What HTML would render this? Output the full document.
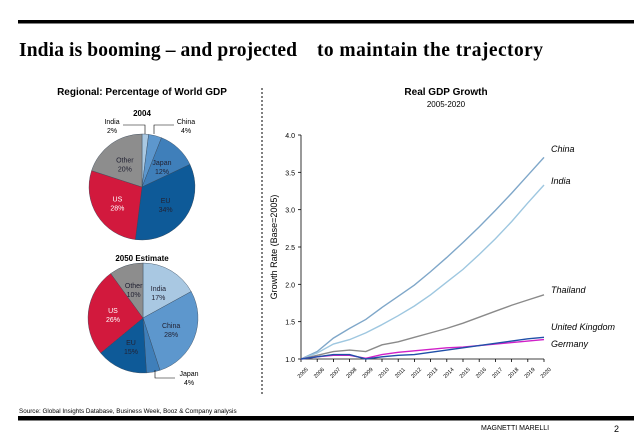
<!DOCTYPE html>
<html><head><meta charset="utf-8"><style>
body{margin:0;width:638px;height:442px;background:#fff;overflow:hidden;font-family:"Liberation Sans",sans-serif;}
svg{position:absolute;left:0;top:0}
</style></head><body>
<svg width="638" height="442">
<rect x="18" y="20" width="616" height="3.5" fill="#000"/>
<text y="56" font-family="Liberation Serif,serif" font-weight="bold" font-size="19.5"><tspan x="19" textLength="278" lengthAdjust="spacing">India is booming – and projected</tspan><tspan x="317" textLength="226" lengthAdjust="spacing">to maintain  the trajectory</tspan></text>
<text x="142" y="95" text-anchor="middle" font-weight="bold" font-size="10">Regional: Percentage of World GDP</text>
<line x1="262" y1="88" x2="262" y2="396" stroke="#000" stroke-dasharray="2,2"/>
<text x="142" y="116" text-anchor="middle" font-weight="bold" font-size="8">2004</text>
<text x="142" y="261" text-anchor="middle" font-weight="bold" font-size="8">2050 Estimate</text>
<g id="pies"></g>
<text x="446" y="95" text-anchor="middle" font-weight="bold" font-size="10">Real GDP Growth</text>
<text x="446" y="107" text-anchor="middle" font-size="8">2005-2020</text>
<text transform="translate(277,247) rotate(-90)" text-anchor="middle" font-size="9">Growth Rate (Base=2005)</text>
<g id="chart"></g>
<text x="19" y="413" font-size="6.3">Source:   Global Insights Database, Business Week, Booz &amp; Company analysis</text>
<rect x="18" y="416" width="616" height="4.5" fill="#000"/>
<text x="481" y="430" font-size="7">MAGNETTI MARELLI</text>
<text x="614" y="432" font-size="9">2</text>
</svg>
<script>
const years=["2005","2006","2007","2008","2009","2010","2011","2012","2013","2014","2015","2016","2017","2018","2019","2020"];
const yTicks=[1.0,1.5,2.0,2.5,3.0,3.5,4.0];
const china=[1.0,1.1,1.28,1.41,1.53,1.69,1.84,1.99,2.17,2.36,2.56,2.77,2.99,3.22,3.46,3.70];
const india=[1.0,1.08,1.2,1.26,1.35,1.46,1.58,1.71,1.86,2.03,2.2,2.4,2.61,2.84,3.09,3.33];
const thailand=[1.0,1.05,1.1,1.12,1.1,1.19,1.23,1.29,1.35,1.41,1.48,1.56,1.64,1.72,1.79,1.86];
const uk=[1.0,1.03,1.06,1.06,1.0,1.03,1.05,1.06,1.09,1.12,1.15,1.18,1.21,1.24,1.27,1.29];
const germany=[1.0,1.03,1.05,1.05,1.01,1.06,1.09,1.11,1.13,1.15,1.16,1.18,1.2,1.22,1.24,1.26];
const pie2004Labels=["India","China","Japan","EU","US","Other"];
const pie2004Values=[2,4,12,34,28,20];
const pie2050Labels=["India","China","Japan","EU","US","Other"];
const pie2050Values=[17,28,4,15,26,10];
const NS="http://www.w3.org/2000/svg";
function mk(t,a,p){const e=document.createElementNS(NS,t);for(const k in a)e.setAttribute(k,a[k]);p.appendChild(e);return e;}
const x0=301,x1=544,yb=359,yt=135;
const X=i=>x0+(x1-x0)*i/(years.length-1);
const Y=v=>yb-(v-1)/(4-1)*(yb-yt);
const g=document.getElementById('chart');
let ax=mk('line',{x1:x0,y1:yt,x2:x0,y2:yb,stroke:'#000','stroke-width':0.8},g);

let bx=mk('line',{x1:x0,y1:yb,x2:x1,y2:yb,stroke:'#000','stroke-width':0.8},g);

yTicks.forEach(v=>{mk('line',{x1:x0-3,y1:Y(v),x2:x0,y2:Y(v),stroke:'#000','stroke-width':0.8},g);
 const t=mk('text',{x:x0-6,y:Y(v)+3,'text-anchor':'end','font-size':7},g);t.textContent=v.toFixed(1);
 });
years.forEach((y,i)=>{mk('line',{x1:X(i),y1:yb,x2:X(i),y2:yb+3,stroke:'#000','stroke-width':0.8},g);
 const t=mk('text',{transform:`translate(${X(i)+3},${yb+15}) rotate(-45)`,'text-anchor':'middle','font-size':5.5},g);t.textContent=y;
 });
const series=[[china,'#7fa7c9','China','series-china'],[india,'#9ec7e0','India','series-india'],[thailand,'#8a8a8a','Thailand','series-thailand'],[germany,'#d020c8','Germany','series-germany'],[uk,'#1f4fa8','United Kingdom','series-uk']];
series.forEach(s=>{const p=mk('polyline',{points:s[0].map((v,i)=>X(i)+','+Y(v)).join(' '),fill:'none',stroke:s[1],'stroke-width':1.4},g);
 });
[['China',152,'label-china'],['India',184,'label-india'],['Thailand',293,'label-thailand'],['United Kingdom',330,'label-uk'],['Germany',347,'label-germany']].forEach(l=>{
 const t=mk('text',{x:551,y:l[1],'font-size':9,'font-style':'italic'},g);t.textContent=l[0];
 });
const pg=document.getElementById('pies');
const cols={India:'#a9c8e2',China:'#5d97cd',Japan:'#3f7fba',EU:'#0e5a98',US:'#d2193d',Other:'#8d8d8d'};
function pie(labels,vals,cx,cy,r,name){let tot=vals.reduce((a,b)=>a+b,0),a=-Math.PI/2;
 vals.forEach((v,i)=>{const a2=a+v/tot*2*Math.PI;const lg=a2-a>Math.PI?1:0;
  const d=`M${cx},${cy}L${cx+r*Math.cos(a)},${cy+r*Math.sin(a)}A${r},${r} 0 ${lg} 1 ${cx+r*Math.cos(a2)},${cy+r*Math.sin(a2)}Z`;
  const p=mk('path',{d:d,fill:cols[labels[i]],stroke:'#345','stroke-width':0.4},pg);
  
  if(v>=10){const m=(a+a2)/2;const tx=cx+r*0.55*Math.cos(m),ty=cy+r*0.55*Math.sin(m);
   const t=mk('text',{x:tx,y:ty,'text-anchor':'middle','font-size':7,fill:labels[i]=='US'?'#fff':'#223'},pg);
   
   const s1=mk('tspan',{x:tx,dy:-1},t);s1.textContent=labels[i];const s2=mk('tspan',{x:tx,dy:9},t);s2.textContent=v+'%';}
  a=a2;});}
pie(pie2004Labels,pie2004Values,142,187,53,'pie-2004');
pie(pie2050Labels,pie2050Values,143,318,55,'pie-2050');
function callout(txt,pct,x,y,lx1,ly1,lx2,ly2,lx3,ly3,name){mk('polyline',{points:`${lx1},${ly1} ${lx2},${ly2} ${lx3},${ly3}`,fill:'none',stroke:'#000','stroke-width':0.6},pg);
 const t=mk('text',{x:x,y:y,'text-anchor':'middle','font-size':7},pg);
 const s1=mk('tspan',{x:x,dy:0},t);s1.textContent=txt;const s2=mk('tspan',{x:x,dy:9},t);s2.textContent=pct;}
callout('India','2%',112,124,123,125,145,125,145,134,'pie-2004-callout-india');
callout('China','4%',186,124,174,125,154,125,154,134,'pie-2004-callout-china');
callout('Japan','4%',189,376,175,378,155,378,155,370,'pie-2050-callout-japan');
</script>
</body></html>
